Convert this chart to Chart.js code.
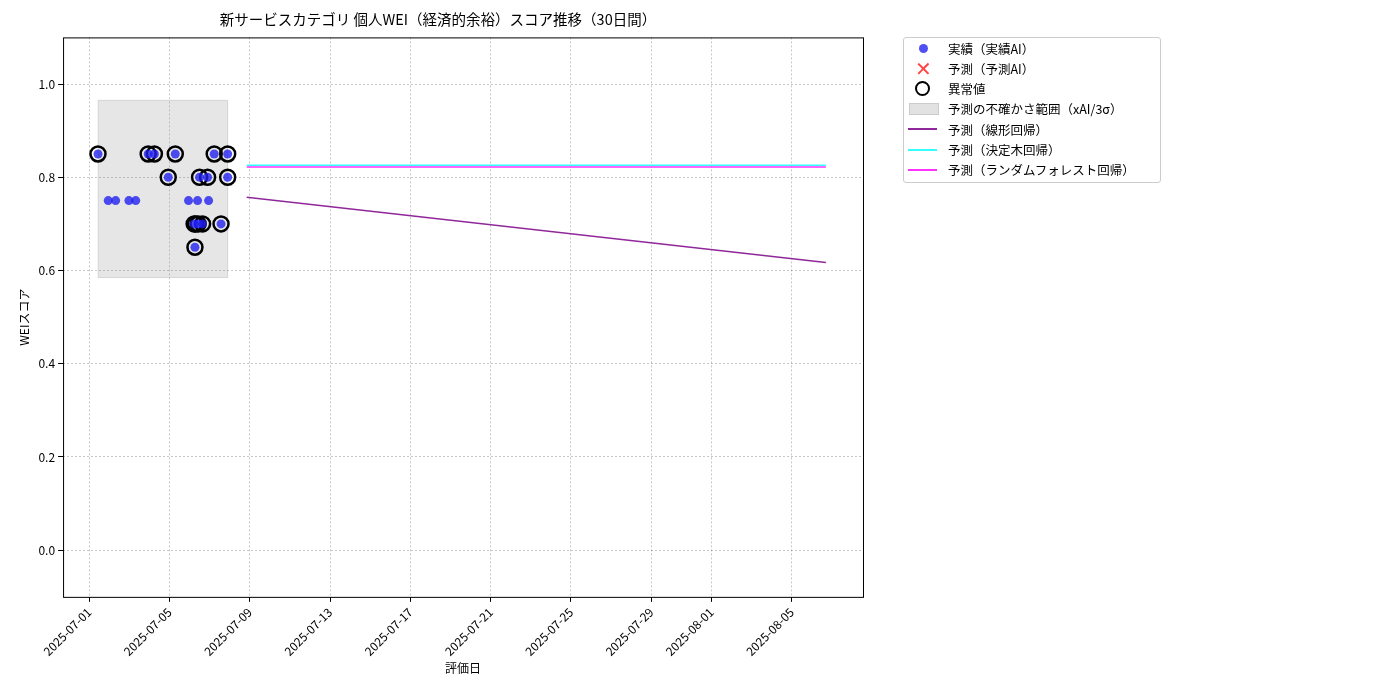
<!DOCTYPE html><html><head><meta charset="utf-8">
<script src="https://cdn.jsdelivr.net/npm/chart.js@4"></script>
<style>body{margin:0;background:#fff;font-family:"Noto Sans CJK JP",sans-serif}
#lg{position:absolute;left:903px;top:37px;width:256px;height:144px;border:1px solid #ccc;border-radius:3px;font-size:12.5px;color:#000}
.it{position:absolute;left:0;height:20px;display:flex;align-items:center}
.it span.t{position:absolute;left:44px;white-space:nowrap}
</style></head><body>
<div style="position:relative;width:1400px;height:700px"><canvas id="c" width="1400" height="700"></canvas>
<div id="lg"></div></div>
<script>
const tickDays=[0,4,8,12,16,20,24,28,31,35];
const tickLabels=["2025-07-01","2025-07-05","2025-07-09","2025-07-13","2025-07-17","2025-07-21","2025-07-25","2025-07-29","2025-08-01","2025-08-05"];
const actualDays=[0.44,0.95,1.32,1.98,2.32,2.94,3.25,3.94,4.29,4.95,5.27,5.23,5.4,5.43,5.5,5.65,5.9,5.95,6.23,6.57,6.9,6.9];
const actualVals=[0.85,0.75,0.75,0.75,0.75,0.85,0.85,0.80,0.85,0.75,0.65,0.70,0.75,0.70,0.80,0.70,0.80,0.75,0.85,0.70,0.85,0.80];
const anomDays=[0.44,2.94,3.25,3.94,4.29,5.27,5.23,5.43,5.5,5.65,5.9,6.23,6.57,6.9,6.9,5.3];
const anomVals=[0.85,0.85,0.85,0.80,0.85,0.65,0.70,0.70,0.80,0.70,0.80,0.85,0.70,0.85,0.80,0.70];
const bandDays=[0.45,6.9], bandLow=0.585, bandHigh=0.965;
const lineDays=[7.85,36.7];
const linearVals=[0.757,0.617], treeVals=[0.826,0.826], forestVals=[0.822,0.822];
const pts=(d,v)=>d.map((x,i)=>({x,y:v[i]}));
const bandPlugin={id:'band',beforeDatasetsDraw(ch){const {ctx,scales:{x,y}}=ch;ctx.save();ctx.fillStyle='rgba(128,128,128,0.2)';ctx.strokeStyle='rgba(128,128,128,0.25)';
const x0=x.getPixelForValue(bandDays[0]),x1=x.getPixelForValue(bandDays[1]),y0=y.getPixelForValue(bandHigh),y1=y.getPixelForValue(bandLow);
ctx.fillRect(x0,y0,x1-x0,y1-y0);ctx.strokeRect(x0,y0,x1-x0,y1-y0);ctx.restore();},
afterDraw(ch){const a=ch.chartArea,ctx=ch.ctx;ctx.save();ctx.strokeStyle='#000';ctx.lineWidth=1;ctx.strokeRect(a.left+0.5,a.top+0.5,a.right-a.left,a.bottom-a.top);ctx.restore();}};
Chart.defaults.font.family='"Noto Sans CJK JP", sans-serif';Chart.defaults.color='#000';
new Chart(document.getElementById('c'),{type:'scatter',plugins:[bandPlugin],data:{datasets:[
{data:pts(anomDays,anomVals),pointRadius:7.5,pointBorderWidth:2.5,pointBorderColor:'#000',backgroundColor:'rgba(0,0,0,0)',order:2},
{data:pts(actualDays,actualVals),pointRadius:4.5,pointBorderWidth:0,backgroundColor:'rgba(30,30,240,0.78)',order:1},
{type:'line',data:pts(lineDays,linearVals),borderColor:'#90279a',borderWidth:1.5,pointRadius:0,order:3},
{type:'line',data:pts(lineDays,treeVals),borderColor:'#33ffff',borderWidth:1.5,pointRadius:0,order:3},
{type:'line',data:pts(lineDays,forestVals),borderColor:'#ff33ff',borderWidth:1.5,pointRadius:0,order:3}
]},options:{responsive:false,animation:false,layout:{padding:{left:13,right:537,top:7,bottom:24}},
plugins:{legend:{display:false},tooltip:{enabled:false},title:{display:true,text:'新サービスカテゴリ 個人WEI（経済的余裕）スコア推移（30日間）',font:{size:14.5,weight:'normal'},padding:{top:4,bottom:9}}},
scales:{x:{type:'linear',min:-1.3,max:38.55,afterBuildTicks:a=>{a.ticks=tickDays.map(v=>({value:v}))},
ticks:{callback:(v)=>tickLabels[tickDays.indexOf(v)],maxRotation:45,minRotation:45,font:{size:12}},
grid:{color:'rgba(0,0,0,0.22)',tickColor:'#000',drawTicks:true,tickLength:5},border:{display:false,dash:[2,2]},
title:{display:true,text:'評価日',font:{size:12},padding:0}},
y:{min:-0.1,max:1.1,afterBuildTicks:a=>{a.ticks=[0,0.2,0.4,0.6,0.8,1.0].map(v=>({value:v}))},
ticks:{callback:v=>v.toFixed(1),font:{size:12}},grid:{color:'rgba(0,0,0,0.22)',tickColor:'#000',tickLength:5},border:{display:false,dash:[2,2]},
title:{display:true,text:'WEIスコア',font:{size:12}}}}}});
const items=[['dot','実績（実績AI）'],['x','予測（予測AI）'],['ring','異常値'],['box','予測の不確かさ範囲（xAI/3σ）'],['#90279a','予測（線形回帰）'],['#33ffff','予測（決定木回帰）'],['#ff33ff','予測（ランダムフォレスト回帰）']];
const lg=document.getElementById('lg');
items.forEach((it,i)=>{const d=document.createElement('div');d.className='it';d.style.top=(i*20.3+0)+'px';d.style.width='256px';
let m='';const k=it[0];
if(k==='dot')m='<div style="position:absolute;left:15px;width:9px;height:9px;border-radius:50%;background:rgba(30,30,240,0.78)"></div>';
else if(k==='x')m='<div style="position:absolute;left:11px;font-size:20px;color:#ff4444;line-height:20px">✕</div>';
else if(k==='ring')m='<div style="position:absolute;left:11px;width:11px;height:11px;border-radius:50%;border:2.5px solid #000"></div>';
else if(k==='box')m='<div style="position:absolute;left:5px;width:28px;height:10px;background:#e2e2e2;border:1px solid #ccc"></div>';
else m='<div style="position:absolute;left:4px;width:29px;height:2px;background:'+k+'"></div>';
d.innerHTML=m+'<span class="t">'+it[1]+'</span>';lg.appendChild(d);});
</script></body></html>
